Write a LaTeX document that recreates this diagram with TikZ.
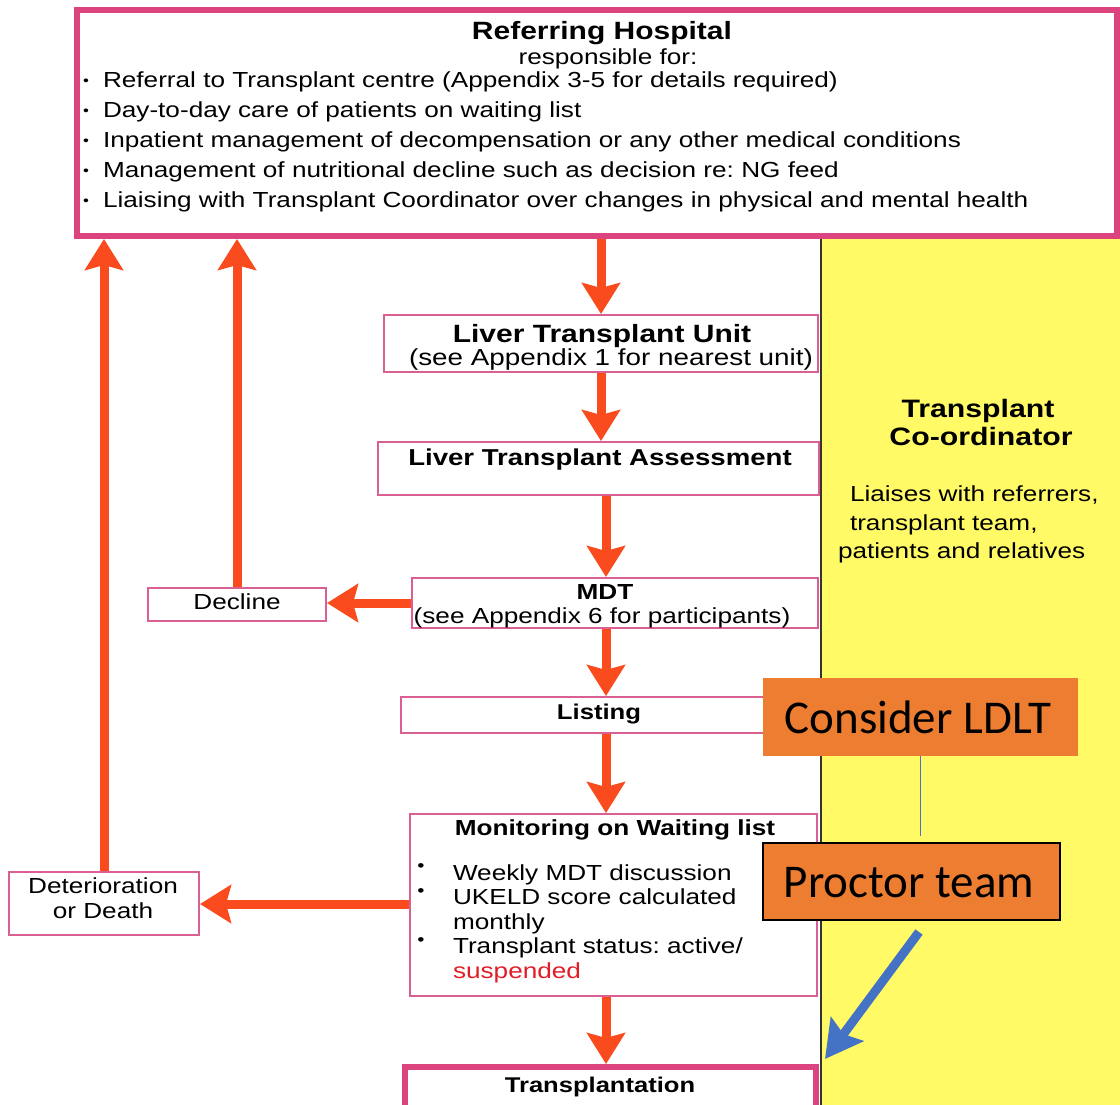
\documentclass[tikz,border=0pt]{standalone}
\usepackage{fontspec}
\newfontfamily\af{Liberation Sans}[FakeStretch=1.2]
\newfontfamily\carl{Carlito}
\usetikzlibrary{arrows.meta}
\definecolor{pinkb}{RGB}{220,68,128}
\definecolor{pinkt}{RGB}{218,96,148}
\definecolor{arr}{RGB}{250,75,30}
\definecolor{yel}{RGB}{255,250,102}
\definecolor{org}{RGB}{237,125,49}
\definecolor{blu}{RGB}{68,114,196}
\definecolor{redt}{RGB}{225,30,40}
\newcommand{\sz}[1]{\fontsize{#1pt}{#1pt}\selectfont}
\frenchspacing
\begin{document}
\begin{tikzpicture}[x=1pt,y=-1pt,
  box/.style={draw=pinkt,line width=2pt,fill=white,rectangle,inner sep=0pt,outer sep=1pt},
  thickbox/.style={draw=pinkb,line width=6pt,fill=white,rectangle,inner sep=0pt,outer sep=3pt},
  obox/.style={fill=org,rectangle,inner sep=0pt,outer sep=0pt},
  txt/.style={inner sep=0pt,outer sep=0pt,anchor=base,font=\af\sz{21.8}},
  ltxt/.style={txt,anchor=base west},
  btxt/.style={inner sep=0pt,outer sep=0pt,anchor=base,font=\af\bfseries\sz{#1}},
  otxt/.style={inner sep=0pt,outer sep=0pt,anchor=base,font=\carl\sz{47}},
  dot/.style={inner sep=0pt,outer sep=0pt,anchor=center,font=\af\sz{#1}},
  oarrow/.style={draw=arr,line width=9pt,-{Stealth[length=31pt,width=38pt,inset=5pt]}},
  barrow/.style={draw=blu,line width=9pt,-{Stealth[length=37pt,width=40pt,inset=6pt]}}
]
\useasboundingbox (0,0) rectangle (1120,1104);
\clip (0,0) rectangle (1120,1104);
\fill[white] (0,0) rectangle (1120,1104);

% yellow coordinator panel
\node[rectangle,fill=yel,draw=black!80,line width=1.5pt,minimum width=310pt,minimum height=880pt,anchor=north west,inner sep=0pt] (coord) at (820,230) {};

% boxes
\node[thickbox,minimum width=1040pt,minimum height=226pt] (hosp) at (597,123) {};
\node[box,minimum width=434pt,minimum height=57pt] (ltu) at (601,343.5) {};
\node[box,minimum width=441pt,minimum height=53pt] (lta) at (598.5,468.5) {};
\node[box,minimum width=406pt,minimum height=50pt] (mdt) at (615,603) {};
\node[box,minimum width=178pt,minimum height=33pt] (decl) at (237,604) {};
\node[box,minimum width=418pt,minimum height=36pt] (listing) at (610,715) {};
\node[box,minimum width=407pt,minimum height=182pt] (mon) at (613.5,905) {};
\node[box,minimum width=190pt,minimum height=63pt] (det) at (104,903.5) {};
\node[thickbox,minimum width=411pt,minimum height=60pt] (trans) at (610.5,1097) {};

% referring hospital text
\node[btxt=25] (hospt) at (602,39) {Referring Hospital};
\node[txt] (hosps) at (608,64) {responsible for:};
\foreach \i/\t in {0/{Referral to Transplant centre (Appendix 3-5 for details required)},
                   1/{Day-to-day care of patients on waiting list},
                   2/{Inpatient management of decompensation or any other medical conditions},
                   3/{Management of nutritional decline such as decision re: NG feed},
                   4/{Liaising with Transplant Coordinator over changes in physical and mental health}}{
  \node[ltxt] (hb\i) at (103,87.5+30*\i) {\t};
  \node[dot=14] (hd\i) at (86,82+30*\i) {•};
}

% unit
\node[btxt=25] (ltut) at (602,342) {Liver Transplant Unit};
\node[txt,font=\af\sz{23.2}] (ltus) at (611,365) {(see Appendix 1 for nearest unit)};
\node[btxt=23] (ltat) at (600,465) {Liver Transplant Assessment};
\node[btxt=21.8] (mdtt) at (605,599) {MDT};
\node[txt] (mdts) at (602,623) {(see Appendix 6 for participants)};
\node[txt] (declt) at (237,609) {Decline};
\node[btxt=21.4] (listt) at (599,719) {Listing};
\node[btxt=21.8] (mont) at (615,835) {Monitoring on Waiting list};
\node[ltxt] (m1) at (453,880) {Weekly MDT discussion};
\node[ltxt] (m2) at (453,904.5) {UKELD score calculated};
\node[ltxt] (m3) at (453,929) {monthly};
\node[ltxt] (m4) at (453,953.5) {Transplant status: active/};
\node[ltxt,text=redt] (m5) at (453,978) {suspended};
\node[dot=17] (md1) at (421,868) {•};
\node[dot=17] (md2) at (421,892.5) {•};
\node[dot=17] (md4) at (421,941.5) {•};
\node[txt] (dett1) at (103,893) {Deterioration};
\node[txt] (dett2) at (103,918) {or Death};
\node[btxt=21.3] (transt) at (600,1092) {Transplantation};

% coordinator text
\node[btxt=25.2] (ct1) at (978,417) {Transplant};
\node[btxt=25.2] (ct2) at (981,445) {Co-ordinator};
\node[ltxt] (cl1) at (850,501) {Liaises with referrers,};
\node[ltxt] (cl2) at (850,530) {transplant team,};
\node[ltxt] (cl3) at (838,558) {patients and relatives};

% arrows
\coordinate (ax) at (606,0);
\draw[oarrow] (hosp.south -| ltu.north) -- (ltu.north);
\draw[oarrow] (ltu.south) -- (ltu.south |- lta.north);
\draw[oarrow] (lta.south -| ax) -- (mdt.north -| ax);
\draw[oarrow] (mdt.west) -- (mdt.west -| decl.east);
\draw[oarrow] (decl.north) -- (decl.north |- hosp.south);
\draw[oarrow] (mdt.south -| ax) -- (listing.north -| ax);
\draw[oarrow] (listing.south -| ax) -- (mon.north -| ax);
\draw[oarrow] ([yshift=1pt]mon.west) -- ([yshift=1pt]mon.west -| det.east);
\draw[oarrow] (det.north) -- (det.north |- hosp.south);
\draw[oarrow] (mon.south -| ax) -- (trans.north -| ax);

% orange boxes
\node[obox,minimum width=315pt,minimum height=78pt] (ldlt) at (920.5,717) {};
\node[otxt] (ldltt) at (918,733) {Consider LDLT};
\node[obox,draw=black,line width=2pt,minimum width=297pt,minimum height=77pt] (proc) at (911.5,881.5) {};
\node[otxt] (proct) at (909,897) {Proctor team};

\coordinate (bl) at (920.5,836);
\draw[draw=blu,line width=1pt] (ldlt.south) -- (bl);
\coordinate (bs) at (919,932);
\coordinate (bt) at (825,1059);
\draw[barrow] (bs) -- (bt);
\end{tikzpicture}
\end{document}
